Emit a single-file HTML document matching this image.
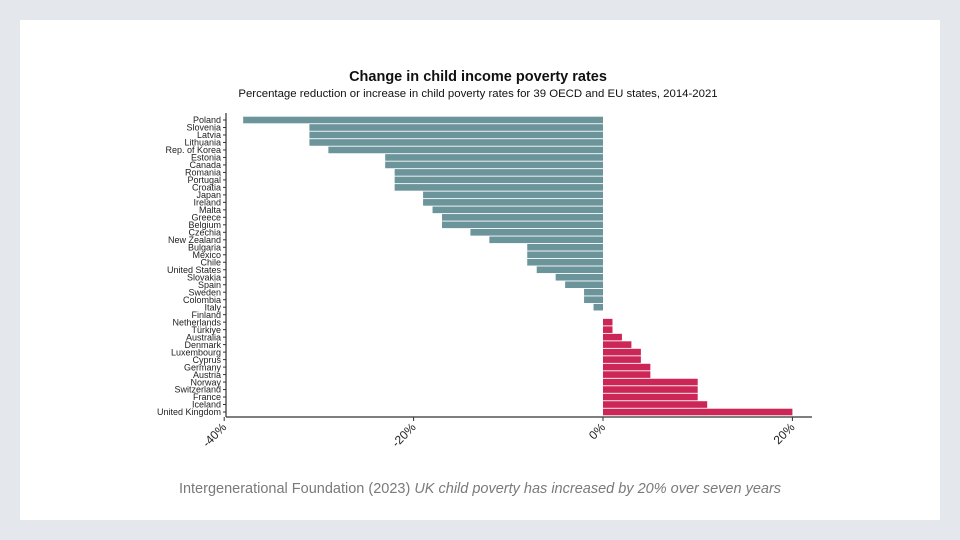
<!DOCTYPE html>
<html><head><meta charset="utf-8"><style>
body{margin:0;width:960px;height:540px;background:#e4e7ec;font-family:"Liberation Sans",sans-serif;overflow:hidden}
#card{position:absolute;left:20px;top:20px;width:920px;height:500px;background:#fff}
svg{position:absolute;left:0;top:0}
</style></head><body>
<div id="card"></div>
<svg id="chart" width="960" height="540">
<text x="478" y="81" text-anchor="middle" font-size="14.5" font-weight="bold" fill="#111">Change in child income poverty rates</text>
<text x="478" y="97" text-anchor="middle" font-size="11.4" fill="#111">Percentage reduction or increase in child poverty rates for 39 OECD and EU states, 2014-2021</text>
<text x="480" y="493" text-anchor="middle" font-size="14.5" fill="#7a7a7a">Intergenerational Foundation (2023) <tspan font-style="italic">UK child poverty has increased by 20% over seven years</tspan></text>
</svg>
<script>
const countries=["Poland","Slovenia","Latvia","Lithuania","Rep. of Korea","Estonia","Canada","Romania","Portugal","Croatia","Japan","Ireland","Malta","Greece","Belgium","Czechia","New Zealand","Bulgaria","Mexico","Chile","United States","Slovakia","Spain","Sweden","Colombia","Italy","Finland","Netherlands","Türkiye","Australia","Denmark","Luxembourg","Cyprus","Germany","Austria","Norway","Switzerland","France","Iceland","United Kingdom"];
const values=[-38,-31,-31,-31,-29,-23,-23,-22,-22,-22,-19,-19,-18,-17,-17,-14,-12,-8,-8,-8,-7,-5,-4,-2,-2,-1,0,1,1,2,3,4,4,5,5,10,10,10,11,20];
const tickValues=[-40,-20,0,20];
const tickLabels=["-40%","-20%","0%","20%"];
</script>
<script>
const svg=document.getElementById('chart');
const NS='http://www.w3.org/2000/svg';
const x0=603,pxPer=9.47;
function xs(v){return x0+v*pxPer;}
const top0=120,bottom0=412;
const step=(bottom0-top0)/(countries.length-1);
function ys(i){return top0+i*step;}
function mk(t,a){const e=document.createElementNS(NS,t);for(const k in a)e.setAttribute(k,a[k]);svg.appendChild(e);return e;}
countries.forEach((c,i)=>{
  const v=values[i],y=ys(i);
  const r=mk('rect',{x:Math.min(xs(0),xs(v)),y:y-3.3,width:Math.abs(xs(v)-xs(0)),height:6.6,fill:v<0?'#6b959b':'#cc2657'});
  
  
  const t=mk('text',{x:221,y:y+3.2,'text-anchor':'end','font-size':'9',fill:'#222'});
  t.textContent=c;
  
  
  const tk=mk('line',{x1:223,x2:226,y1:y,y2:y,stroke:'#333','stroke-width':1});
  
  
});
const ya=mk('line',{x1:226,x2:226,y1:113,y2:417,stroke:'#333','stroke-width':1.2});


const xa=mk('line',{x1:226,x2:812,y1:417,y2:417,stroke:'#333','stroke-width':1.2});


tickValues.forEach((v,i)=>{
  const x=xs(v);
  const l=mk('line',{x1:x,x2:x,y1:417,y2:421,stroke:'#333','stroke-width':1});
  
  
  const t=mk('text',{x:x+3,y:428,'text-anchor':'end','font-size':'12',fill:'#222',transform:`rotate(-45 ${x+3} 428)`});
  t.textContent=tickLabels[i];
  
  
});
</script>
</body></html>
